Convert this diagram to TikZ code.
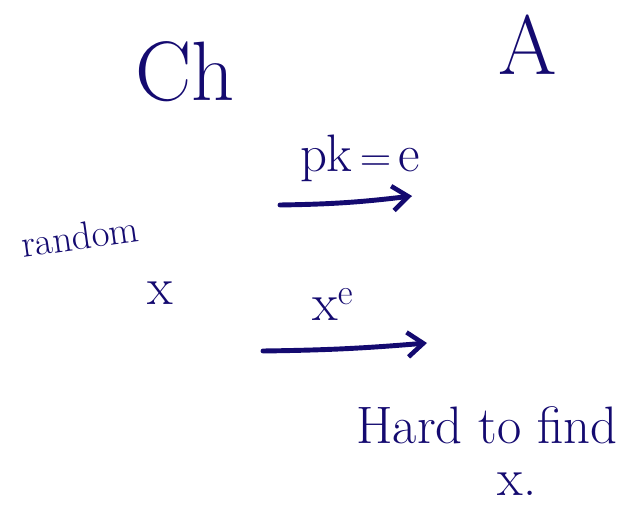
\documentclass[tikz,border=0pt]{standalone}
\usepackage{xcolor}
\usepackage{tikz}
\usetikzlibrary{positioning,arrows.meta,calc}

\definecolor{ink}{HTML}{140A70}

\begin{document}
\begin{tikzpicture}[
  x=0.02cm, y=-0.02cm,
  every node/.style={text=ink,inner sep=0pt,align=center},
  party/.style={font=\fontsize{48}{52}\selectfont},
  msg/.style  ={font=\fontsize{30}{34}\selectfont},
  note/.style ={font=\fontsize{30}{34}\selectfont},
  small/.style={font=\fontsize{22}{26}\selectfont},
  arr/.style  ={-{Straight Barb[length=9pt,width=14pt,line width=2.6pt]},
                line width=2.8pt,ink,line cap=round},
]
\useasboundingbox (0,0) rectangle (628,506);

\node[party] at (185, 72)  (ch)    {Ch};
\node[party] at (528, 45)  (adv)   {A};

\node[msg]   at (360, 158) (pk)    {pk$\,{=}\,$e};
\coordinate (pkfrom) at (280, 205);
\coordinate (pkto)   at (412, 196);

\node[small,rotate=8] at (80, 236) (rnd) {random};
\node[msg]   at (160, 293) (xval)  {x};

\node[msg]   at (333, 305) (xe)    {x$^{\mathrm{e}}$};
\coordinate (xefrom) at (263, 351);
\coordinate (xeto)   at (427, 343);

\node[note]  at (487, 425) (hard)  {Hard to find};
\node[msg]   at (517, 484) (xdot)  {x.};

\draw[arr] (pkfrom) to[bend right=3] (pkto);
\draw[arr] (xefrom) to[bend right=2] (xeto);
\end{tikzpicture}
\end{document}
